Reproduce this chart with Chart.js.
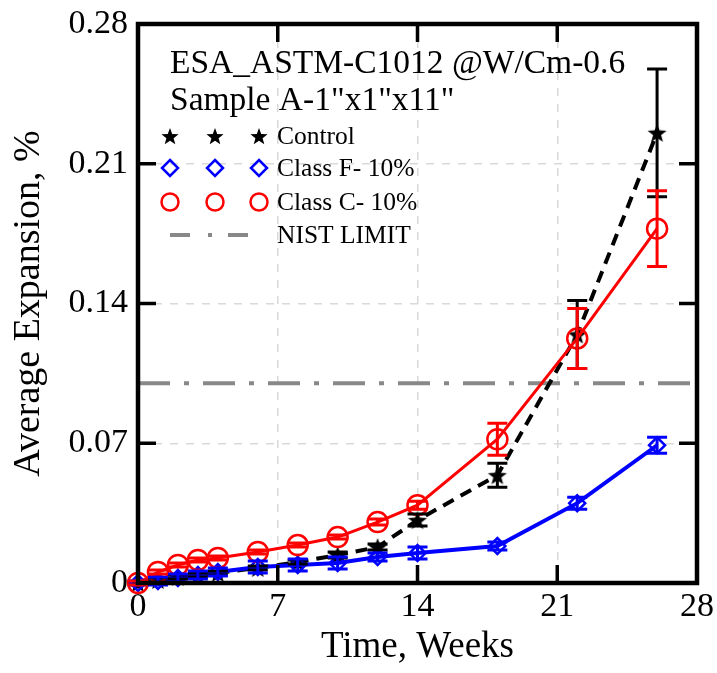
<!DOCTYPE html>
<html>
<head>
<meta charset="utf-8">
<script src="https://cdn.jsdelivr.net/npm/chart.js@4.4.1/dist/chart.umd.min.js"></script>
<style>
  html, body { margin: 0; padding: 0; background: #fff; }
  #wrap { width: 717px; height: 673px; }
</style>
</head>
<body>
<div id="wrap"><canvas id="c" width="717" height="673"></canvas></div>
<script>
// ---- data ----
const weeks = [0, 1, 2, 3, 4, 6, 8, 10, 12, 14, 18, 22, 26];

const control    = [0, 0.0015, 0.003, 0.004, 0.005, 0.0075, 0.0105, 0.014, 0.018, 0.0315, 0.054, 0.1245, 0.2255];
const controlErr = [0, 0.001, 0.001, 0.001, 0.001, 0.001, 0.001, 0.0015, 0.0015, 0.003, 0.006, 0.017, 0.032];

const classF    = [0, 0.001, 0.0025, 0.004, 0.0055, 0.008, 0.009, 0.010, 0.013, 0.015, 0.0185, 0.040, 0.069];
const classFErr = [0.001, 0.002, 0.002, 0.002, 0.002, 0.003, 0.003, 0.003, 0.002, 0.003, 0.002, 0.003, 0.004];

const classC    = [0, 0.0055, 0.009, 0.0115, 0.0125, 0.0155, 0.019, 0.023, 0.0305, 0.039, 0.072, 0.1225, 0.1775];
const classCErr = [0.001, 0.001, 0.001, 0.001, 0.001, 0.001, 0.001, 0.001, 0.0015, 0.002, 0.008, 0.015, 0.019];

const nistX = [0, 28];
const nistY = [0.10, 0.10];

const xTicks = [0, 7, 14, 21, 28];
const yTicks = [0, 0.07, 0.14, 0.21, 0.28];
const yTickLabels = ['0', '0.07', '0.14', '0.21', '0.28'];

const titleLines = ['ESA_ASTM-C1012 @W/Cm-0.6', 'Sample A-1"x1"x11"'];
const legendLabels = ['Control', 'Class F- 10%', 'Class C- 10%', 'NIST LIMIT'];

const SERIF = '"Liberation Serif", "Times New Roman", serif';

/* ---------------- MARKERS ---------------- */
function starPath(ctx, x, y, R) {
    const r = R * 0.42;
    ctx.beginPath();
    for (let i = 0; i < 10; i++) {
        const a = -Math.PI / 2 + i * Math.PI / 5;
        const rr = i % 2 === 0 ? R : r;
        const px = x + Math.cos(a) * rr, py = y + Math.sin(a) * rr;
        if (i === 0) ctx.moveTo(px, py); else ctx.lineTo(px, py);
    }
    ctx.closePath();
}

const starImg = document.createElement('canvas');
starImg.width = 22; starImg.height = 22;
(function () {
    const g = starImg.getContext('2d');
    g.fillStyle = '#000';
    starPath(g, 11, 12, 10);
    g.fill();
})();

function pts(xs, ys) {
    return xs.map((x, i) => ({ x: x, y: ys[i] }));
}

/* ---------------- ERROR BARS ---------------- */
const errorBars = {
    id: 'errorBars',
    afterDatasetsDraw(chart) {
        const ctx = chart.ctx;
        const xs = chart.scales.x, ys = chart.scales.y;
        chart.data.datasets.forEach((ds) => {
            if (!ds.err) return;
            ctx.save();
            ctx.strokeStyle = ds.borderColor;
            ctx.lineWidth = 3;
            ctx.setLineDash([]);
            ds.data.forEach((p, i) => {
                const e = ds.err[i];
                if (!e) return;
                const px = xs.getPixelForValue(p.x);
                const top = ys.getPixelForValue(p.y + e);
                const bot = ys.getPixelForValue(p.y - e);
                const cap = 10;
                ctx.beginPath();
                ctx.moveTo(px, top); ctx.lineTo(px, bot);
                ctx.moveTo(px - cap, top); ctx.lineTo(px + cap, top);
                ctx.moveTo(px - cap, bot); ctx.lineTo(px + cap, bot);
                ctx.stroke();
            });
            ctx.restore();
        });
    }
};

/* ---------------- FRAME, TICKS, LEGEND ---------------- */
const frame = {
    id: 'frame',
    afterDraw(chart) {
        const ctx = chart.ctx;
        const a = chart.chartArea;
        const xs = chart.scales.x, ys = chart.scales.y;
        ctx.save();
        ctx.strokeStyle = '#000';
        ctx.setLineDash([]);

        // inward ticks on all four sides
        ctx.lineWidth = 3.5;
        const tl = 18;
        ctx.beginPath();
        xTicks.forEach(v => {
            const px = xs.getPixelForValue(v);
            ctx.moveTo(px, a.bottom); ctx.lineTo(px, a.bottom - tl);
            ctx.moveTo(px, a.top); ctx.lineTo(px, a.top + tl);
        });
        yTicks.forEach(v => {
            const py = ys.getPixelForValue(v);
            ctx.moveTo(a.left, py); ctx.lineTo(a.left + tl, py);
            ctx.moveTo(a.right, py); ctx.lineTo(a.right - tl, py);
        });
        ctx.stroke();

        // box
        ctx.lineWidth = 4.5;
        ctx.strokeRect(a.left, a.top, a.right - a.left, a.bottom - a.top);

        // title inside the plot
        ctx.fillStyle = '#000';
        ctx.font = '33.5px ' + SERIF;
        ctx.textBaseline = 'alphabetic';
        ctx.textAlign = 'left';
        ctx.fillText(titleLines[0], 170, 73);
        ctx.fillText(titleLines[1], 170, 110);

        // legend rows
        const rowY = [136, 168, 202, 235];
        const mx = [170, 215, 259];
        ctx.font = '25.5px ' + SERIF;
        ctx.textBaseline = 'middle';
        legendLabels.forEach((lab, i) => {
            ctx.fillStyle = '#000';
            ctx.fillText(lab, 277, rowY[i] + 1);
        });

        // control stars
        mx.forEach(x => {
            ctx.fillStyle = '#000';
            starPath(ctx, x, rowY[0] + 1, 9);
            ctx.fill();
        });
        // class F diamonds
        ctx.strokeStyle = '#0000ff';
        ctx.lineWidth = 2.5;
        mx.forEach(x => {
            const y = rowY[1], r = 8;
            ctx.beginPath();
            ctx.moveTo(x, y - r); ctx.lineTo(x + r, y); ctx.lineTo(x, y + r); ctx.lineTo(x - r, y);
            ctx.closePath();
            ctx.stroke();
        });
        // class C circles
        ctx.strokeStyle = '#ff0000';
        mx.forEach(x => {
            ctx.beginPath();
            ctx.arc(x, rowY[2], 8.5, 0, Math.PI * 2);
            ctx.stroke();
        });
        // NIST dash-dot sample
        ctx.strokeStyle = '#888888';
        ctx.lineWidth = 4;
        ctx.beginPath();
        ctx.moveTo(170, rowY[3]); ctx.lineTo(190, rowY[3]);
        ctx.moveTo(208, rowY[3]); ctx.lineTo(212, rowY[3]);
        ctx.moveTo(228, rowY[3]); ctx.lineTo(248, rowY[3]);
        ctx.stroke();

        ctx.restore();
    }
};

/* ---------------- CHART SETUP ---------------- */
const chart = new Chart(document.getElementById('c'), {
    type: 'scatter',
    data: {
        datasets: [
            {
                label: 'NIST LIMIT',
                data: pts(nistX, nistY),
                showLine: true,
                borderColor: '#888888',
                borderWidth: 4,
                borderDash: [32, 14, 5, 14],
                pointRadius: 0,
                order: 4
            },
            {
                label: 'Control',
                data: pts(weeks, control),
                err: controlErr,
                showLine: true,
                borderColor: '#000000',
                borderWidth: 4,
                borderDash: [12, 8],
                pointStyle: starImg,
                pointRadius: 9,
                order: 3,
                clip: false
            },
            {
                label: 'Class F- 10%',
                data: pts(weeks, classF),
                err: classFErr,
                showLine: true,
                borderColor: '#0000ff',
                backgroundColor: 'rgba(0,0,0,0)',
                borderWidth: 4,
                pointStyle: 'rectRot',
                pointRadius: 8,
                pointBorderWidth: 2.5,
                order: 2,
                clip: false
            },
            {
                label: 'Class C- 10%',
                data: pts(weeks, classC),
                err: classCErr,
                showLine: true,
                borderColor: '#ff0000',
                backgroundColor: 'rgba(0,0,0,0)',
                borderWidth: 3,
                pointStyle: 'circle',
                pointRadius: 10,
                pointBorderWidth: 2.5,
                order: 1,
                clip: false
            }
        ]
    },
    options: {
        responsive: false,
        animation: false,
        events: [],
        layout: { padding: { top: 24, right: 20, left: 0, bottom: 0 } },
        plugins: {
            legend: { display: false },
            tooltip: { enabled: false }
        },
        scales: {
            x: {
                type: 'linear',
                min: 0,
                max: 28,
                afterBuildTicks: (s) => { s.ticks = xTicks.map(v => ({ value: v })); },
                afterFit: (s) => { s.height = 90; s.paddingLeft = 0; s.paddingRight = 0; },
                ticks: {
                    color: '#000',
                    font: { family: SERIF, size: 34 },
                    padding: 4,
                    maxRotation: 0,
                    autoSkip: false
                },
                grid: { color: '#d9d9d9', lineWidth: 1.5, drawTicks: false },
                border: { display: false, dash: [8, 8] },
                title: {
                    display: true,
                    text: 'Time, Weeks',
                    color: '#000',
                    font: { family: SERIF, size: 37 },
                    padding: { top: 0, bottom: 4 }
                }
            },
            y: {
                type: 'linear',
                min: 0,
                max: 0.28,
                afterBuildTicks: (s) => { s.ticks = yTicks.map(v => ({ value: v })); },
                afterFit: (s) => { s.width = 138; s.paddingTop = 0; s.paddingBottom = 0; },
                ticks: {
                    color: '#000',
                    font: { family: SERIF, size: 34 },
                    padding: 10,
                    autoSkip: false,
                    callback: (v, i) => yTickLabels[i]
                },
                grid: { color: '#d9d9d9', lineWidth: 1.5, drawTicks: false },
                border: { display: false, dash: [8, 8] },
                title: {
                    display: true,
                    text: 'Average Expansion, %',
                    color: '#000',
                    font: { family: SERIF, size: 38 },
                    padding: { top: 6, bottom: 0 }
                }
            }
        }
    },
    plugins: [errorBars, frame]
});
</script>
</body>
</html>
